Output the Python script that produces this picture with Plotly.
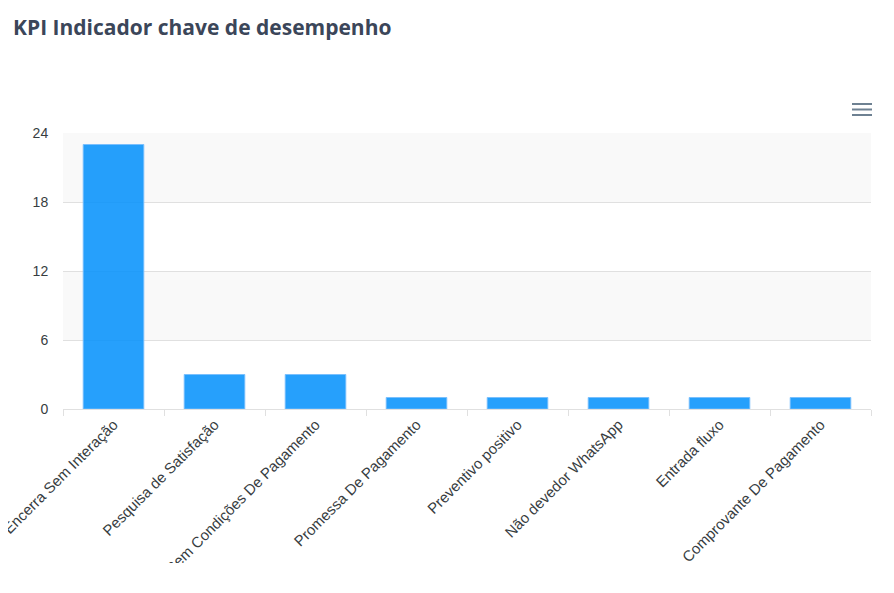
import plotly.graph_objects as go

categories = [
    "Encerra Sem Interação",
    "Pesquisa de Satisfação",
    "Sem Condições De Pagamento",
    "Promessa De Pagamento",
    "Preventivo positivo",
    "Não devedor WhatsApp",
    "Entrada fluxo",
    "Comprovante De Pagamento",
]
values = [23, 3, 3, 1, 1, 1, 1, 1]
y_ticks = [0, 6, 12, 18, 24]
title_text = "KPI Indicador chave de desempenho"

# page body has an 8px default margin; compensate so the chart sits at the reference position
OFF = 8
W, H = 894 - OFF, 563 - OFF
PL, PR, PT, PB = 63, 871, 133, 409   # plot area in page pixels
L, R, T, B = PL - OFF, (W + OFF) - PR, PT - OFF, (H + OFF) - PB

fig = go.Figure()
fig.add_trace(go.Bar(
    x=categories,
    y=values,
    marker=dict(color="rgba(0,143,251,0.85)",
                line=dict(color="rgba(120,190,253,0.9)", width=1)),
    hoverinfo="x+y",
))

shapes = []
# alternating grid row bands
for i in range(len(y_ticks) - 1):
    if (len(y_ticks) - 2 - i) % 2 == 0:
        shapes.append(dict(type="rect", xref="paper", yref="y", x0=0, x1=1,
                           y0=y_ticks[i], y1=y_ticks[i + 1],
                           fillcolor="#f9f9f9", line=dict(width=0), layer="below"))

def px_x(px):
    return (px - PL) / (PR - PL)

def px_y(py):
    return (PB - py) / (PB - PT)

# hamburger menu icon
for k in range(3):
    yy = px_y(104 + k * 5.5)
    shapes.append(dict(type="line", xref="paper", yref="paper",
                       x0=px_x(852), x1=px_x(872), y0=yy, y1=yy,
                       line=dict(color="#6e8192", width=2)))
# right card border
shapes.append(dict(type="line", xref="paper", yref="paper",
                   x0=px_x(890.5), x1=px_x(890.5), y0=px_y(0), y1=px_y(600),
                   line=dict(color="#d6d6d6", width=1)))

fig.update_layout(
    width=W, height=H,
    margin=dict(l=L, r=R, t=T, b=B, autoexpand=False),
    paper_bgcolor="white",
    plot_bgcolor="white",
    bargap=0.4,
    showlegend=False,
    font=dict(family="Liberation Sans, Arial, sans-serif", size=14, color="#373d3f"),
    title=dict(text=title_text, xref="container", yref="container",
               x=(13 - OFF) / W, xanchor="left", y=1 - (28 - OFF) / H, yanchor="middle",
               font=dict(family="Open Sans, sans-serif", size=21,
                         color="#3b4659", weight="bold")),
    shapes=shapes,
    xaxis=dict(
        tickangle=-45,
        tickson="boundaries",
        ticks="outside", ticklen=6, tickcolor="#e0e0e0",
        showline=True, linecolor="#e0e0e0", linewidth=1,
        showgrid=False,
        automargin=False,
        tickfont=dict(size=15, color="#373d3f"),
        fixedrange=True,
    ),
    yaxis=dict(
        range=[0, 24],
        tickvals=y_ticks,
        showgrid=True, gridcolor="#e0e0e0", gridwidth=1,
        zeroline=False,
        showline=False,
        ticks="outside", ticklen=11, tickcolor="rgba(0,0,0,0)",
        automargin=False,
        tickfont=dict(size=14, color="#373d3f"),
        fixedrange=True,
    ),
)

fig.write_html("out.html", config={"displayModeBar": False})
